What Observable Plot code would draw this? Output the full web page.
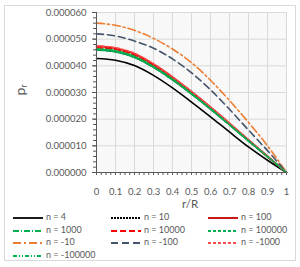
<!DOCTYPE html>
<html><head><meta charset="utf-8">
<script src="https://cdn.jsdelivr.net/npm/d3@7"></script>
<script src="https://cdn.jsdelivr.net/npm/@observablehq/plot@0.6"></script>
<style>
body{margin:0;background:#fff;font-family:Lato,"Liberation Sans",sans-serif;}
#wrap{position:relative;width:300px;height:267px;overflow:hidden;}
#frame{position:absolute;left:4px;top:5px;width:292px;height:256px;border:1px solid #d9d9d9;box-sizing:border-box;}
#chart{position:absolute;left:0;top:0;}
.lbl{position:absolute;color:#595959;white-space:nowrap;}
.leg{position:absolute;font-size:9px;color:#595959;white-space:nowrap;line-height:10px;}
.leg svg{vertical-align:middle;margin-right:3px;}
</style></head><body>
<div id="wrap">
  <div id="frame"></div>
  <div id="chart"></div>
  <div class="lbl" style="left:182px;top:199px;font-size:11.5px;line-height:10px;">r/R</div>
  <div class="lbl" style="left:20px;top:90px;font-size:14px;transform:translate(-50%,-50%) rotate(-90deg);">p<sub style="font-size:9px;vertical-align:-2px;">r</sub></div>
  <div id="legend"></div>
</div>
<script>
// r/R positions
const r = [0, 0.1, 0.2, 0.3, 0.4, 0.5, 0.6, 0.7, 0.8, 0.9, 1.0];
// p_r values in units of 1e-6
const p_n4      = [42.75, 42.1, 40.1, 36.4, 31.7, 26.4, 20.9, 15.2, 9.6, 4.6, 0];
const p_n10     = [46.0, 45.3, 43.2, 39.5, 34.8, 29.5, 23.8, 17.9, 11.9, 5.9, 0];
const p_n100    = [47.3, 46.6, 44.5, 40.6, 35.8, 30.3, 24.5, 18.4, 12.2, 6.1, 0];
const p_n1000   = [46.2, 45.5, 43.4, 39.7, 35.0, 29.6, 23.9, 18.0, 11.9, 6.0, 0];
const p_n10000  = [46.8, 46.1, 44.0, 40.2, 35.4, 30.0, 24.3, 18.2, 12.1, 6.0, 0];
const p_n100000 = [45.9, 45.2, 43.1, 39.4, 34.7, 29.4, 23.8, 17.8, 11.8, 5.9, 0];
const p_nm10    = [56.0, 55.2, 53.3, 50.3, 46.3, 41.2, 34.6, 27.0, 18.8, 10.0, 0];
const p_nm100   = [52.0, 51.2, 49.3, 46.6, 42.6, 37.4, 31.0, 23.7, 15.9, 8.2, 0];
const p_nm1000  = [47.5, 46.8, 44.7, 40.8, 35.9, 30.4, 24.6, 18.5, 12.2, 6.1, 0];
const p_nm100000= [46.4, 45.7, 43.6, 39.8, 35.1, 29.7, 24.0, 18.0, 12.0, 6.0, 0];

const seriesNames = ["n = 4","n = 10","n = 100","n = 1000","n = 10000","n = 100000","n = -10","n = -100","n = -1000","n = -100000"];
const seriesValues = [p_n4,p_n10,p_n100,p_n1000,p_n10000,p_n100000,p_nm10,p_nm100,p_nm1000,p_nm100000];
const seriesColors = ["#000000","#000000","#c00000","#00b050","#ff0000","#00b050","#ed7d31","#44546a","#ff4d4d","#00b050"];
const seriesDash = ["none","2,1","none","6,2,1,2","6,3","3,2","8,3,2,3","7,4","3,2","4,2,1,2,1,2"];

const yTicks = [0,10,20,30,40,50,60];
const yMinor = d3.range(0, 61, 2);
const xTicks = [0,0.1,0.2,0.3,0.4,0.5,0.6,0.7,0.8,0.9,1];
const xMinor = d3.range(0, 41).map(i => i/40);
const xLabels = ["0","0.1","0.2","0.3","0.4","0.5","0.6","0.7","0.8","0.9","1"];

const marks = [
  Plot.frame({fill: "url(#hatch)", stroke: "none"}),
  Plot.gridX(xTicks, {stroke: "#d9d9d9", strokeOpacity: 1}),
  Plot.gridY(yTicks, {stroke: "#d9d9d9", strokeOpacity: 1}),
];
seriesNames.forEach((name, i) => {
  const data = r.map((x, j) => ({x, y: seriesValues[i][j]}));
  marks.push(Plot.line(data, {x: "x", y: "y", stroke: seriesColors[i], strokeWidth: 1.6,
    strokeDasharray: seriesDash[i] === "none" ? null : seriesDash[i], curve: "monotone-x"}));
});
marks.push(
  Plot.ruleX([0], {stroke: "#595959"}),
  Plot.ruleY([0], {stroke: "#595959"}),
  Plot.axisY(yMinor, {tickSize: 3, text: null, stroke: "#595959"}),
  Plot.axisY(yTicks, {tickSize: 4, tickPadding: 6, stroke: "#595959", fill: "#595959", fontSize: 9.5,
    tickFormat: d => (d/1e6).toFixed(6)}),
  Plot.axisX(xMinor, {tickSize: 3, text: null, stroke: "#595959"}),
  Plot.axisX(xTicks, {tickSize: 0, tickPadding: 16, fill: "#595959", fontSize: 9.5,
    tickFormat: (d, i) => xLabels[i]})
);

const chart = Plot.plot({
  width: 300, height: 267,
  marginLeft: 96, marginRight: 14, marginTop: 12, marginBottom: 95,
  style: {fontFamily: "Lato, 'Liberation Sans', sans-serif", background: "transparent"},
  x: {domain: [0, 1], label: null},
  y: {domain: [0, 60], label: null},
  marks
});
const svg = d3.select(chart);
const defs = svg.insert("defs", ":first-child");
const pat = defs.append("pattern").attr("id", "hatch").attr("patternUnits", "userSpaceOnUse")
  .attr("width", 3).attr("height", 3);
pat.append("rect").attr("width", 3).attr("height", 3).attr("fill", "#ffffff");
pat.append("path").attr("d", "M-1,-1 L4,4 M-1,2 L1,4 M2,-1 L4,1").attr("stroke", "#e4e4e4").attr("stroke-width", 0.8);
document.getElementById("chart").appendChild(chart);

// legend
const legCols = [13, 111, 208];
const legRows = [212, 225, 237, 250];
const leg = document.getElementById("legend");
seriesNames.forEach((name, i) => {
  const d = document.createElement("div");
  d.className = "leg";
  d.style.left = legCols[i % 3] + "px";
  d.style.top = legRows[Math.floor(i / 3)] + "px";
  const dash = seriesDash[i] === "none" ? "" : `stroke-dasharray="${seriesDash[i]}"`;
  d.innerHTML = `<svg width="30" height="6"><line x1="0" y1="3" x2="30" y2="3" stroke="${seriesColors[i]}" stroke-width="1.8" ${dash}/></svg>${name}`;
  leg.appendChild(d);
});
</script>
</body></html>
